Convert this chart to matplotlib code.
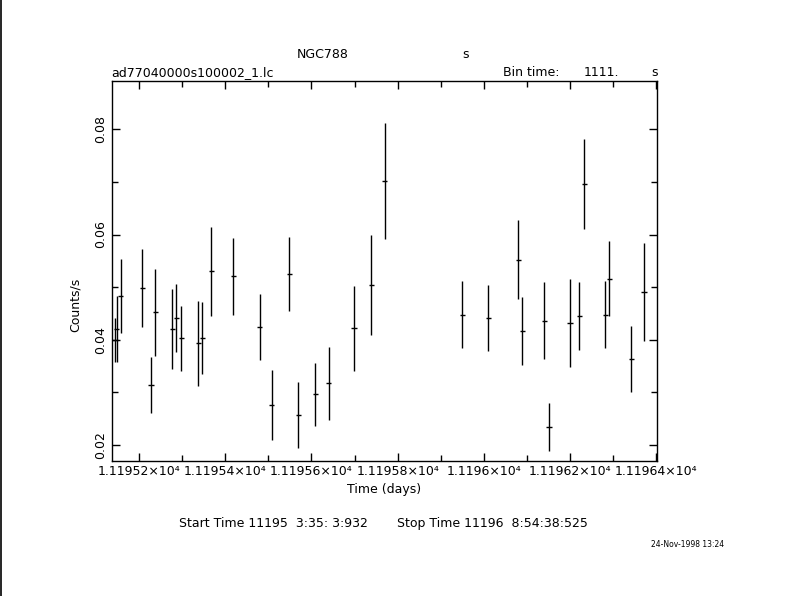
import matplotlib
matplotlib.use('Agg')
import matplotlib.pyplot as plt
from matplotlib.ticker import MultipleLocator, FuncFormatter
from matplotlib.lines import Line2D
import numpy as np

# light curve, bin centres in days
time_days = [11195.1443, 11195.1483, 11195.1576, 11195.2077, 11195.2278, 11195.2378,
             11195.2772, 11195.2865, 11195.2981, 11195.3375, 11195.3468, 11195.3677,
             11195.4187, 11195.4799, 11195.5077, 11195.5486, 11195.5699, 11195.6089,
             11195.6399, 11195.6986, 11195.7387, 11195.7698, 11195.9498, 11196.0101,
             11196.0801, 11196.0889, 11196.1400, 11196.1515, 11196.2002, 11196.2211,
             11196.2327, 11196.2814, 11196.2911, 11196.3417, 11196.3718]
rate = [0.0400, 0.0420, 0.0483, 0.0498, 0.0314, 0.0452,
        0.0420, 0.0441, 0.0403, 0.0393, 0.0403, 0.0530,
        0.0521, 0.0424, 0.0276, 0.0525, 0.0257, 0.0296,
        0.0317, 0.0422, 0.0504, 0.0702, 0.0448, 0.0441,
        0.0552, 0.0417, 0.0436, 0.0234, 0.0432, 0.0445,
        0.0696, 0.0448, 0.0516, 0.0363, 0.0491]
rate_err = [0.0042, 0.0063, 0.0070, 0.0074, 0.0054, 0.0083,
            0.0076, 0.0065, 0.0062, 0.0080, 0.0068, 0.0084,
            0.0073, 0.0063, 0.0067, 0.0071, 0.0063, 0.0059,
            0.0070, 0.0081, 0.0095, 0.0110, 0.0064, 0.0063,
            0.0075, 0.0065, 0.0073, 0.0046, 0.0083, 0.0065,
            0.0086, 0.0064, 0.0071, 0.0063, 0.0093]
bin_time = 1111.0  # seconds

x_range = [11195.1367, 11196.402]
y_range = [0.01696, 0.08918]

fig = plt.figure(figsize=[7.9, 5.96], dpi=100)
ax = fig.add_axes([0.1414, 0.2265, 0.6906, 0.6376])

half_bin = bin_time / 2.0 / 86400.0
ax.errorbar(time_days, rate, yerr=rate_err, xerr=half_bin, fmt='none',
            ecolor='black', elinewidth=1.0, capsize=0)

ax.set_xlim(x_range)
ax.set_ylim(y_range)

ax.xaxis.set_major_locator(MultipleLocator(0.2))
ax.xaxis.set_minor_locator(MultipleLocator(0.1))
ax.yaxis.set_major_locator(MultipleLocator(0.02))
ax.yaxis.set_minor_locator(MultipleLocator(0.01))

def xfmt(v, pos):
    return '%s\u00d710\u2074' % ('%.6g' % (v / 1e4))

ax.xaxis.set_major_formatter(FuncFormatter(xfmt))
ax.yaxis.set_major_formatter(FuncFormatter(lambda v, pos: '%.2f' % v))

ax.tick_params(which='both', direction='in', top=True, right=True, labelsize=9, width=1)
ax.tick_params(which='major', length=6)
ax.tick_params(which='minor', length=4)
ax.tick_params(axis='x', pad=3)
for lbl in ax.get_yticklabels():
    lbl.set_rotation(90)
    lbl.set_va('center')
for s in ax.spines.values():
    s.set_linewidth(1.0)

fs = 9
fig.text(0.409, 0.909, 'NGC788', ha='center', va='center', fontsize=fs)
fig.text(0.589, 0.909, 's', ha='center', va='center', fontsize=fs)
fig.text(0.1405, 0.879, 'ad77040000s100002_1.lc', ha='left', va='center', fontsize=fs)
fig.text(0.637, 0.879, 'Bin time:', ha='left', va='center', fontsize=fs)
fig.text(0.739, 0.879, '1111.', ha='left', va='center', fontsize=fs)
fig.text(0.829, 0.879, 's', ha='center', va='center', fontsize=fs)
fig.text(0.486, 0.178, 'Time (days)', ha='center', va='center', fontsize=fs)
fig.text(0.095, 0.488, 'Counts/s', ha='center', va='center', rotation=90, fontsize=fs)
fig.text(0.226, 0.121, 'Start Time 11195  3:35: 3:932', ha='left', va='center', fontsize=fs)
fig.text(0.503, 0.121, 'Stop Time 11196  8:54:38:525', ha='left', va='center', fontsize=fs)
fig.text(0.824, 0.087, '24-Nov-1998 13:24', ha='left', va='center', fontsize=5.5)

fig.add_artist(Line2D([0.001, 0.001], [0, 1], transform=fig.transFigure, color='black', lw=1.2))

fig.savefig('out.png', dpi=100)
